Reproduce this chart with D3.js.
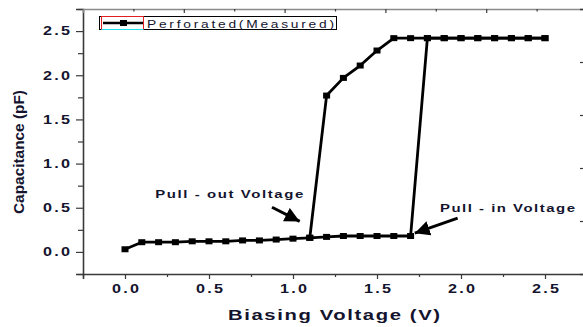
<!DOCTYPE html>
<html>
<head>
<meta charset="utf-8">
<script src="https://cdn.jsdelivr.net/npm/d3@7"></script>
<style>
  body { margin: 0; background: #fff; }
  svg { display: block; font-family: "Liberation Sans", Arial, sans-serif; }
</style>
</head>
<body>
<div id="chart"></div>
<script>
// forward sweep (voltage going up) and reverse sweep (voltage going down)
var upVoltage = [0.0, 0.1, 0.2, 0.3, 0.4, 0.5, 0.6, 0.7, 0.8, 0.9, 1.0, 1.1, 1.2, 1.3, 1.4, 1.5, 1.6, 1.7,
                 1.8, 1.9, 2.0, 2.1, 2.2, 2.3, 2.4, 2.5];
var upCap     = [0.03, 0.11, 0.11, 0.11, 0.12, 0.12, 0.12, 0.13, 0.13, 0.14, 0.15, 0.16, 0.17, 0.18, 0.18, 0.18, 0.18, 0.18,
                 2.42, 2.42, 2.42, 2.42, 2.42, 2.42, 2.42, 2.42];
var downVoltage = [2.5, 2.4, 2.3, 2.2, 2.1, 2.0, 1.9, 1.8, 1.7, 1.6, 1.5, 1.4, 1.3, 1.2, 1.1];
var downCap     = [2.42, 2.42, 2.42, 2.42, 2.42, 2.42, 2.42, 2.42, 2.42, 2.42, 2.28, 2.11, 1.97, 1.77, 0.16];

var xTicks = [0, 0.5, 1.0, 1.5, 2.0, 2.5];
var xMinor = [-0.25, 0.25, 0.75, 1.25, 1.75, 2.25, 2.75];
var yTicks = [0, 0.5, 1.0, 1.5, 2.0, 2.5];
var yMinor = [-0.25, 0.25, 0.75, 1.25, 1.75, 2.25, 2.75];
// the top / right axes of the original use an offset grid
var topTicks = [0.35, 0.95, 1.55, 2.15];
var topMinor = [0.05, 0.65, 1.25, 1.85, 2.45];
var rightTicks = [0.35, 0.95, 1.55, 2.15];

var seriesName = "Perforated(Measured)";
var notes = [
  {text: "Pull - out Voltage", x: 0.18, y: 0.61, len: 148, from: [0.875, 0.506], to: [1.04, 0.345]},
  {text: "Pull - in Voltage",  x: 1.875, y: 0.45, len: 135, from: [1.98, 0.382], to: [1.725, 0.212]}
];

var w = 583, h = 327;
var sx = 1.35;   // the original's bold labels are drawn horizontally stretched
var x = d3.scaleLinear().domain([-0.25, 2.75]).range([83, 587]);
var y = d3.scaleLinear().domain([-0.25, 2.75]).range([274, 9]);

var svg = d3.select('#chart').append('svg')
    .attr('width', w)
    .attr('height', h);

var txt = '#14142e';

// axes
var xAxis = svg.append('g')
    .attr('transform', 'translate(0,' + y(-0.25) + ')')
    .call(d3.axisBottom(x).tickValues(xTicks).tickSize(5).tickPadding(5).tickFormat(d3.format('.1f')));
svg.append('g')
    .attr('transform', 'translate(0,' + y(-0.25) + ')')
    .call(d3.axisBottom(x).tickValues(xMinor).tickSize(3).tickFormat(''))
    .select('.domain').remove();

var yAxis = svg.append('g')
    .attr('transform', 'translate(' + x(-0.25) + ',0)')
    .call(d3.axisLeft(y).tickValues(yTicks).tickSize(7).tickPadding(6).tickFormat(d3.format('.1f')));
svg.append('g')
    .attr('transform', 'translate(' + x(-0.25) + ',0)')
    .call(d3.axisLeft(y).tickValues(yMinor).tickSize(5).tickFormat(''))
    .select('.domain').remove();

var topAxis = svg.append('g')
    .attr('transform', 'translate(0,' + y(2.75) + ')')
    .call(d3.axisTop(x).tickValues(topTicks).tickSize(-4).tickFormat(''));
svg.append('g')
    .attr('transform', 'translate(0,' + y(2.75) + ')')
    .call(d3.axisTop(x).tickValues(topMinor).tickSize(-2.5).tickFormat(''))
    .select('.domain').remove();
svg.append('g')
    .attr('transform', 'translate(' + x(2.75) + ',0)')
    .call(d3.axisRight(y).tickValues(rightTicks).tickSize(-7).tickFormat(''));

svg.selectAll('.domain').attr('stroke', '#3a3a3a').attr('stroke-width', 1.6);
svg.selectAll('.tick line').attr('stroke', '#3a3a3a').attr('stroke-width', 1.2);
topAxis.select('.domain').attr('stroke', '#8a8a8a');

svg.selectAll('.tick text')
    .attr('fill', txt)
    .style('font-size', '12px')
    .style('font-weight', 'bold')
    .attr('textLength', 27 / sx)
    .attr('lengthAdjust', 'spacing')
    .attr('transform', 'scale(' + sx + ',1)');
yAxis.selectAll('.tick text').attr('x', -13 / sx);

// axis titles
svg.append('text')
    .attr('transform', 'translate(334,320) scale(' + sx + ',1)')
    .attr('text-anchor', 'middle')
    .attr('textLength', 212 / sx)
    .attr('lengthAdjust', 'spacing')
    .style('font-size', '15px')
    .style('font-weight', 'bold')
    .attr('fill', txt)
    .text('Biasing Voltage (V)');

svg.append('text')
    .attr('transform', 'translate(24,152) rotate(-90)')
    .attr('text-anchor', 'middle')
    .attr('textLength', 124)
    .attr('lengthAdjust', 'spacingAndGlyphs')
    .style('font-size', '15.5px')
    .style('font-weight', 'bold')
    .attr('fill', txt)
    .text('Capacitance (pF)');

// data
var line = d3.line()
    .x(function(d){ return x(d[0]); })
    .y(function(d){ return y(d[1]); });

var sweeps = [d3.zip(upVoltage, upCap), d3.zip(downVoltage, downCap)];

svg.selectAll('path.sweep')
    .data(sweeps)
    .enter()
    .append('path')
    .attr('class', 'sweep')
    .attr('d', line)
    .attr('fill', 'none')
    .attr('stroke', '#000')
    .attr('stroke-width', 2.8)
    .attr('stroke-linejoin', 'round');

var pts = sweeps[0].concat(sweeps[1]);
svg.selectAll('rect.pt')
    .data(pts)
    .enter()
    .append('rect')
    .attr('class', 'pt')
    .attr('x', function(d){ return x(d[0]) - 3.5; })
    .attr('y', function(d){ return y(d[1]) - 3; })
    .attr('width', 7)
    .attr('height', 6)
    .attr('fill', '#000');

// annotations
svg.append('defs').append('marker')
    .attr('id', 'head')
    .attr('viewBox', '0 0 10 10')
    .attr('refX', 10)
    .attr('refY', 5)
    .attr('markerWidth', 5)
    .attr('markerHeight', 5)
    .attr('markerUnits', 'strokeWidth')
    .attr('orient', 'auto')
    .append('path')
    .attr('d', 'M0,0 L10,5 L0,10 Z')
    .attr('fill', '#000');

var note = svg.selectAll('.note')
    .data(notes)
    .enter()
    .append('g')
    .attr('class', 'note');

note.append('text')
    .attr('transform', function(d){
        return 'translate(' + x(d.x) + ',' + y(d.y) + ') scale(1.3,1)';
    })
    .attr('textLength', function(d){ return d.len / 1.3; })
    .attr('lengthAdjust', 'spacing')
    .style('font-size', '11.5px')
    .style('font-weight', 'bold')
    .attr('fill', txt)
    .text(function(d){ return d.text; });

note.append('line')
    .attr('x1', function(d){ return x(d.from[0]); })
    .attr('y1', function(d){ return y(d.from[1]); })
    .attr('x2', function(d){ return x(d.to[0]); })
    .attr('y2', function(d){ return y(d.to[1]); })
    .attr('stroke', '#000')
    .attr('stroke-width', 3)
    .attr('marker-end', 'url(#head)');

// legend
var legend = svg.append('g').attr('class', 'legend');
legend.append('rect')
    .attr('x', 99.5).attr('y', 16.5)
    .attr('width', 237).attr('height', 13)
    .attr('fill', '#fff')
    .attr('stroke', '#000')
    .attr('stroke-width', 1);
legend.append('rect')
    .attr('x', 101.5).attr('y', 16.5)
    .attr('width', 42).attr('height', 13)
    .attr('fill', 'none')
    .attr('stroke', '#e02020')
    .attr('stroke-width', 1);
legend.append('line')
    .attr('x1', 101.5).attr('x2', 143.5)
    .attr('y1', 29.5).attr('y2', 29.5)
    .attr('stroke', '#20e0f0');
legend.append('line')
    .attr('x1', 103).attr('x2', 143)
    .attr('y1', 23).attr('y2', 23)
    .attr('stroke', '#000')
    .attr('stroke-width', 2.5);
legend.append('rect')
    .attr('x', 120).attr('y', 20)
    .attr('width', 7).attr('height', 6)
    .attr('fill', '#000');
legend.append('text')
    .attr('transform', 'translate(147,27.5) scale(1.2,1)')
    .attr('textLength', 187 / 1.2)
    .attr('lengthAdjust', 'spacing')
    .style('font-size', '11.5px')
    .attr('fill', txt)
    .text(seriesName);
</script>
</body>
</html>
